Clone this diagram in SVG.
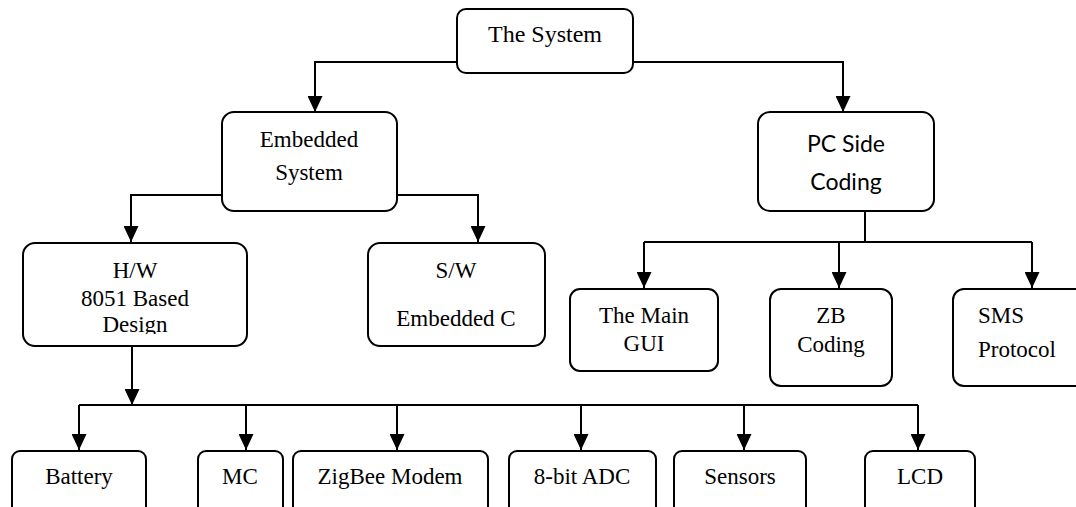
<svg xmlns="http://www.w3.org/2000/svg" width="1076" height="507" viewBox="0 0 1076 507">
<style>
.box{fill:#fff;stroke:#000;stroke-width:2}
.c{fill:none;stroke:#000;stroke-width:2}
.t{font-family:"Liberation Serif","Times New Roman",serif;font-size:23px;fill:#000;text-anchor:middle}
.s{font-family:Lato,"Liberation Sans",sans-serif;font-size:23px;fill:#000;text-anchor:middle}
</style>
<defs>
<marker id="ah" viewBox="0 0 16 15" refX="16" refY="7.5" markerWidth="16" markerHeight="15" markerUnits="userSpaceOnUse" orient="auto">
<path d="M0,0 L16,7.5 L0,15 z" fill="#000"/>
</marker>
<clipPath id="hwclip"><rect x="20" y="240" width="230" height="94"/></clipPath>
</defs>
<rect width="1076" height="507" fill="#fff"/>
<g id="connectors">
<path class="c" d="M457,62 H315 V112" marker-end="url(#ah)"/>
<path class="c" d="M633,62 H843 V112" marker-end="url(#ah)"/>
<path class="c" d="M222,195 H131 V242" marker-end="url(#ah)"/>
<path class="c" d="M397,195 H478 V242" marker-end="url(#ah)"/>
<path class="c" d="M865,211 V242 M644,242 H1032"/>
<path class="c" d="M644,242 V288" marker-end="url(#ah)"/>
<path class="c" d="M839,242 V288" marker-end="url(#ah)"/>
<path class="c" d="M1032,242 V288" marker-end="url(#ah)"/>
<path class="c" d="M132,346 V405" marker-end="url(#ah)"/>
<path class="c" d="M79,405 H918"/>
<path class="c" d="M79,405 V450" marker-end="url(#ah)"/>
<path class="c" d="M246,405 V450" marker-end="url(#ah)"/>
<path class="c" d="M397,405 V450" marker-end="url(#ah)"/>
<path class="c" d="M581,405 V450" marker-end="url(#ah)"/>
<path class="c" d="M744,405 V450" marker-end="url(#ah)"/>
<path class="c" d="M918,405 V450" marker-end="url(#ah)"/>
</g>
<g id="the-system">
<rect class="box" x="457" y="9" width="176" height="64" rx="9"/>
<text class="t" x="545" y="42" style="font-size:24px">The System</text>
</g>
<g id="embedded-system">
<rect class="box" x="222" y="112" width="175" height="99" rx="12"/>
<text class="t" x="309" y="147">Embedded</text>
<text class="t" x="309" y="180">System</text>
</g>
<g id="pc-side">
<rect class="box" x="758" y="112" width="176" height="99" rx="12"/>
<text class="s" x="846" y="152">PC Side</text>
<text class="s" x="846" y="190">Coding</text>
</g>
<g id="hw">
<rect class="box" x="23" y="243" width="224" height="103" rx="12"/>
<g clip-path="url(#hwclip)">
<text class="t" x="135" y="278">H/W</text>
<text class="t" x="135" y="306">8051 Based</text>
<text class="t" x="135" y="332">Design</text>
</g>
</g>
<g id="sw">
<rect class="box" x="368" y="243" width="177" height="103" rx="12"/>
<text class="t" x="456" y="278">S/W</text>
<text class="t" x="456" y="326">Embedded C</text>
</g>
<g id="main-gui">
<rect class="box" x="570" y="289" width="148" height="82" rx="10"/>
<text class="t" x="644" y="323">The Main</text>
<text class="t" x="644" y="351">GUI</text>
</g>
<g id="zb-coding">
<rect class="box" x="770" y="289" width="122" height="97" rx="11"/>
<text class="t" x="831" y="323">ZB</text>
<text class="t" x="831" y="352">Coding</text>
</g>
<g id="sms">
<rect class="box" x="953" y="289" width="140" height="97" rx="11"/>
<text class="t" x="978" y="323" style="text-anchor:start">SMS</text>
<text class="t" x="978" y="357" style="text-anchor:start">Protocol</text>
</g>
<g id="battery">
<rect class="box" x="12" y="451" width="134" height="70" rx="8"/>
<text class="t" x="79" y="484">Battery</text>
</g>
<g id="mc">
<rect class="box" x="198" y="451" width="85" height="70" rx="8"/>
<text class="t" x="240" y="484">MC</text>
</g>
<g id="zigbee">
<rect class="box" x="293" y="451" width="195" height="70" rx="8"/>
<text class="t" x="390" y="484">ZigBee Modem</text>
</g>
<g id="adc">
<rect class="box" x="509" y="451" width="147" height="70" rx="8"/>
<text class="t" x="582" y="484">8-bit ADC</text>
</g>
<g id="sensors">
<rect class="box" x="674" y="451" width="132" height="70" rx="8"/>
<text class="t" x="740" y="484">Sensors</text>
</g>
<g id="lcd">
<rect class="box" x="865" y="451" width="110" height="70" rx="8"/>
<text class="t" x="920" y="484">LCD</text>
</g>
</svg>
